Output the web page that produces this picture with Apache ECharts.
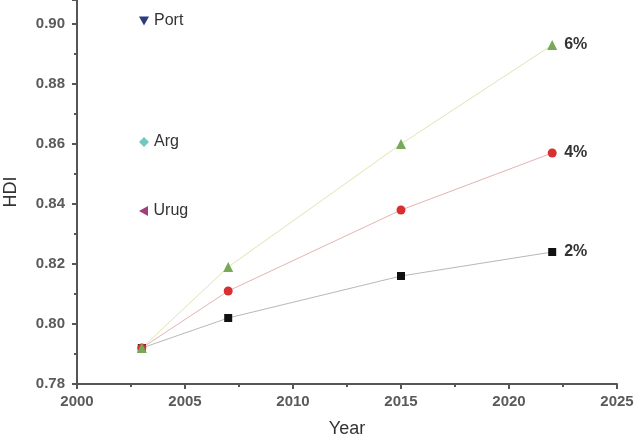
<!DOCTYPE html>
<html>
<head>
<meta charset="utf-8">
<script src="https://cdn.jsdelivr.net/npm/echarts@6/dist/echarts.min.js"></script>
<style>
  html, body { margin: 0; padding: 0; background: #fff; }
  #main { width: 634px; height: 441px; }
</style>
</head>
<body>
<div id="main"></div>
<script>
// data
const years = [2003, 2007, 2015, 2022];
const hdi6 = [0.792, 0.819, 0.860, 0.893];
const hdi4 = [0.792, 0.811, 0.838, 0.857];
const hdi2 = [0.792, 0.802, 0.816, 0.824];
const countries = ["Port", "Arg", "Urug"];

const pair = (ys) => years.map((x, i) => [x, ys[i]]);

const myChart = echarts.init(document.getElementById("main"));

const axisCol = "#555";
const labelFont = { color: "#5a5a5a", fontSize: 15, fontFamily: "Liberation Sans", fontWeight: "bold" };

const downTri = "path://M0,0 L10,0 L5,9 Z";
const leftTri = "path://M9,0 L9,10 L0,5 Z";
const legendIcons = [downTri, "diamond", leftTri];
const legendColors = ["#2c3c80", "#70c8c0", "#a0407a"];
const legendTops = [8, 129, 198];

function trend(name, data, lineCol, sym, symCol, size) {
  return {
    name: name,
    type: "line",
    data: pair(data),
    symbol: sym,
    symbolSize: size,
    lineStyle: { color: lineCol, width: 1 },
    itemStyle: { color: symCol },
    endLabel: {
      show: true,
      formatter: "{a}",
      distance: 12,
      color: "#333",
      fontSize: 16,
      fontWeight: "bold",
      fontFamily: "Liberation Sans",
    },
    z: 3,
  };
}

const option = {
  backgroundColor: "#fff",
  animation: false,
  grid: { left: 77, right: 17, top: 0, bottom: 57, outerBoundsMode: "none" },
  legend: countries.map((c, i) => ({
    data: [{ name: c, icon: legendIcons[i] }],
    left: 134,
    top: legendTops[i],
    itemWidth: 10,
    itemHeight: 10,
    itemGap: 0,
    textStyle: { fontSize: 16, color: "#333", fontFamily: "Liberation Sans" },
    selectedMode: false,
  })),
  xAxis: {
    type: "value",
    min: 2000,
    max: 2025,
    interval: 5,
    name: "Year",
    nameLocation: "middle",
    nameGap: 36,
    nameTextStyle: { fontSize: 18, color: "#333", fontFamily: "Liberation Sans" },
    splitLine: { show: false },
    axisLine: { lineStyle: { color: axisCol, width: 2 } },
    axisTick: { length: 5, lineStyle: { color: axisCol, width: 2 } },
    minorTick: { show: true, splitNumber: 2, length: 3, lineStyle: { color: axisCol, width: 2 } },
    axisLabel: Object.assign({ margin: 10, formatter: (v) => String(v) }, labelFont),
  },
  yAxis: {
    type: "value",
    min: 0.78,
    max: 0.908,
    interval: 0.02,
    name: "HDI",
    nameLocation: "middle",
    nameGap: 57,
    nameTextStyle: { fontSize: 18, color: "#333", fontFamily: "Liberation Sans" },
    splitLine: { show: false },
    axisLine: { show: true, lineStyle: { color: axisCol, width: 2 } },
    axisTick: { show: true, length: 5, lineStyle: { color: axisCol, width: 2 } },
    minorTick: { show: true, splitNumber: 2, length: 3, lineStyle: { color: axisCol, width: 2 } },
    axisLabel: Object.assign({
      margin: 12,
      showMaxLabel: false,
      formatter: (v) => v.toFixed(2),
    }, labelFont),
  },
  series: [
    trend("2%", hdi2, "#b8b8b8", "rect", "#111", 8),
    trend("4%", hdi4, "#e4b4b4", "circle", "#d83030", 9),
    trend("6%", hdi6, "#e0e4b0", "triangle", "#78a858", 10),
  ].concat(countries.map((c, i) => ({
    name: c,
    type: "line",
    data: [],
    itemStyle: { color: legendColors[i] },
  }))),
};

myChart.setOption(option);
</script>
</body>
</html>
